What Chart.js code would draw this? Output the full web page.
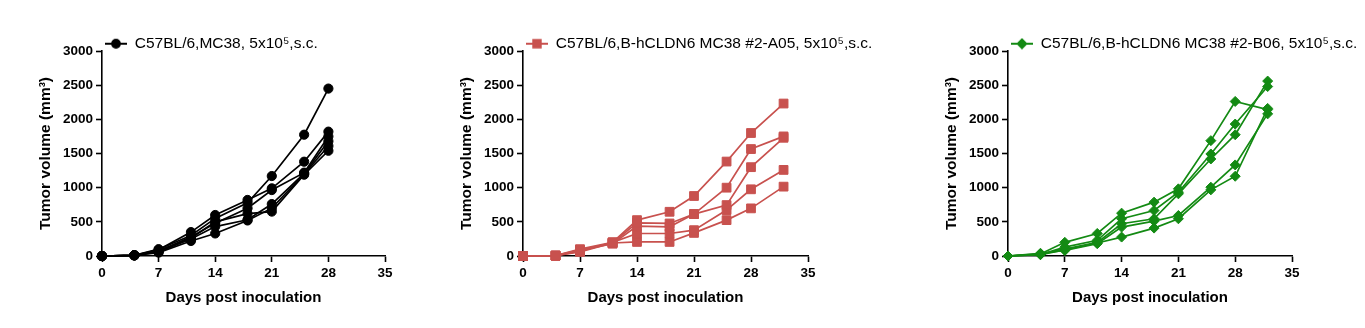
<!DOCTYPE html>
<html>
<head>
<meta charset="utf-8">
<script src="https://cdn.jsdelivr.net/npm/chart.js@4/dist/chart.umd.min.js"></script>
<style>
  html, body { margin: 0; padding: 0; background: #fff; }
  #wrap { position: relative; width: 1365px; height: 328px; overflow: hidden; }
  .panel { position: absolute; top: 0; height: 328px; }
</style>
</head>
<body>
<div id="wrap">
  <div class="panel" style="left:0;width:400px"><canvas id="c1"></canvas></div>
  <div class="panel" style="left:421px;width:470px"><canvas id="c2"></canvas></div>
  <div class="panel" style="left:906px;width:459px"><canvas id="c3"></canvas></div>
</div>
<script>
// days of measurement
const daysWT  = [0, 4, 7, 11, 14, 18, 21, 25, 28];
const daysKI  = [0, 4, 7, 11, 14, 18, 21, 25, 28, 32];

// tumor volume per mouse (mm3)
const wtMice = [
  [0, 10, 100, 300, 550, 780, 1170, 1775, 2450],
  [0, 10,  90, 350, 600, 820,  990, 1380, 1820],
  [0, 10,  70, 280, 480, 700,  965, 1220, 1750],
  [0, 10,  60, 250, 430, 530,  760, 1210, 1680],
  [0, 10,  50, 220, 330, 520,  700, 1200, 1610],
  [0, 10,  80, 260, 500, 620,  650, 1190, 1540],
];
const a05Mice = [
  [0, 5, 100, 200, 525, 647, 878, 1382, 1800, 2231],
  [0, 5,  90, 190, 485, 476, 613, 1000, 1565, 1750],
  [0, 5,  80, 180, 437, 427, 613,  745, 1300, 1730],
  [0, 5,  70, 200, 329, 329, 378,  672,  976, 1260],
  [0, 5,  60, 190, 206, 206, 338,  525,  697, 1015],
];
const b06Mice = [
  [0, 30, 200, 330, 627, 788, 983, 1688, 2262, 2143],
  [0, 20, 130, 230, 545, 666, 934, 1493, 1931, 2480],
  [0, 25, 100, 200, 472, 545, 910, 1420, 1775, 2560],
  [0, 40,  80, 180, 423, 510, 593, 1007, 1333, 2080],
  [0, 20,  90, 190, 277, 408, 545,  968, 1167, 2160],
];

const labelWT  = 'C57BL/6,MC38, 5x10\u2075,s.c.';
const labelA05 = 'C57BL/6,B-hCLDN6 MC38 #2-A05, 5x10\u2075,s.c.';
const labelB06 = 'C57BL/6,B-hCLDN6 MC38 #2-B06, 5x10\u2075,s.c.';

const xTicks = [0, 7, 14, 21, 28, 35];
const yTicks = [0, 500, 1000, 1500, 2000, 2500, 3000];

const FONT = "'Liberation Sans', Arial, sans-serif";

// little line + marker image for the legend
function legendIcon(color, style, radius) {
  const c = document.createElement('canvas');
  c.width = 22; c.height = 12;
  const g = c.getContext('2d');
  g.strokeStyle = color; g.lineWidth = 2;
  g.beginPath(); g.moveTo(0, 6); g.lineTo(22, 6); g.stroke();
  Chart.helpers.drawPoint(g, { pointStyle: style, radius: radius, rotation: 0, borderWidth: 1 }, 11, 6);
  g.fillStyle = color; g.fill();
  return c;
}

// legend box is as wide as the plot area; let it run past so the long labels aren't clipped
const wideLegend = {
  id: 'wideLegend',
  afterLayout(chart) {
    const lg = chart.legend;
    if (!lg) return;
    lg.right = chart.width;
    lg.width = lg.right - lg.left;
  },
};

function makePanel(id, days, mice, label, color, style, radius, padRight) {
  const datasets = mice.map((vals, i) => ({
    label: i === 0 ? label : 'mouse ' + (i + 1),
    data: vals.map((v, j) => ({ x: days[j], y: v })),
    borderColor: color,
    backgroundColor: color,
    borderWidth: 1.7,
    pointStyle: style,
    pointRadius: radius,
    pointBorderWidth: 1,
    pointHoverRadius: radius,
    clip: false,
    tension: 0,
  }));

  return new Chart(document.getElementById(id), {
    type: 'line',
    data: { datasets },
    plugins: [wideLegend],
    options: {
      responsive: true, maintainAspectRatio: false, animation: false,
      layout: { padding: { left: 32, right: padRight, top: 33, bottom: 17 } },
      plugins: {
        tooltip: { enabled: false },
        legend: {
          position: 'top', align: 'start', fullSize: false, maxHeight: 18,
          labels: {
            filter: item => item.datasetIndex === 0,
            usePointStyle: true,
            pointStyle: legendIcon(color, style, radius * 0.85),
            pointStyleWidth: 22,
            padding: 3,
            color: '#000',
            font: { family: FONT, size: 15.5 },
          },
        },
      },
      scales: {
        x: {
          type: 'linear', min: 0, max: 35,
          afterBuildTicks: s => { s.ticks = xTicks.map(v => ({ value: v })); },
          afterFit: s => { s.height = 55; },
          border: { color: '#000', width: 1.6 },
          grid: { drawOnChartArea: false, drawTicks: true, tickLength: 6, tickColor: '#000', tickWidth: 1.6 },
          ticks: { color: '#000', padding: 3, maxRotation: 0, callback: v => String(v),
                   font: { family: FONT, size: 13.5, weight: 'bold' } },
          title: { display: true, text: 'Days post inoculation', color: '#000', padding: { top: 4, bottom: 4 },
                   font: { family: FONT, size: 15, weight: 'bold' } },
        },
        y: {
          min: 0, max: 3000,
          afterBuildTicks: s => { s.ticks = yTicks.map(v => ({ value: v })); },
          afterFit: s => { s.width = 70; },
          border: { color: '#000', width: 1.6 },
          grid: { drawOnChartArea: false, drawTicks: true, tickLength: 6, tickColor: '#000', tickWidth: 1.6 },
          ticks: { color: '#000', padding: 3, callback: v => String(v),
                   font: { family: FONT, size: 13.5, weight: 'bold' } },
          title: { display: true, text: 'Tumor volume (mm\u00B3)', color: '#000', padding: { top: 4, bottom: 4 },
                   font: { family: FONT, size: 15.5, weight: 'bold' } },
        },
      },
    },
  });
}

makePanel('c1', daysWT, wtMice,  labelWT,  '#000000', 'circle',  4.6, 15);
makePanel('c2', daysKI, a05Mice, labelA05, '#c8514e', 'rect',    6.2, 83);
makePanel('c3', daysKI, b06Mice, labelB06, '#138a13', 'rectRot', 5.0, 73);
</script>
</body>
</html>
